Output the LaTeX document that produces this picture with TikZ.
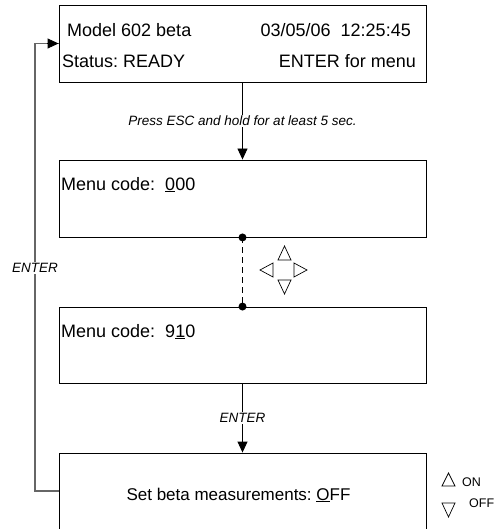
\documentclass[tikz,border=0pt]{standalone}
\usepackage{fontspec}
\setmainfont{Liberation Sans}
\usetikzlibrary{arrows.meta}
\frenchspacing
\tikzset{
  box/.style={draw, line width=0.9pt, minimum width=367pt, inner sep=0pt},
  main/.style={font=\fontsize{18}{20}\selectfont, inner sep=0pt},
  lbl/.style={font=\fontsize{13.5}{15}\selectfont\itshape, fill=white, inner sep=1.5pt},
  arr/.style={line width=0.9pt, -{Triangle[length=11pt,width=10pt]}},
  fb/.style={line width=1.1pt, draw=black!60},
  tri/.style={draw, line width=0.7pt, line join=miter},
  small/.style={font=\fontsize{12.5}{13}\selectfont, inner sep=0pt}
}
\begin{document}
\begin{tikzpicture}[x=1pt,y=-1pt]
\path[use as bounding box] (0,0) rectangle (497,529);
\clip (0,0) rectangle (497,529);
% boxes
\node[box, minimum height=77pt] (b1) at (242.5,43.5) {};
\node[box, minimum height=77pt] (b2) at (242.5,198.5) {};
\node[box, minimum height=76pt] (b3) at (242.5,345) {};
\node[box, minimum height=87pt] (b4) at (242.5,496.5) {};
% texts
\node[main, anchor=base west] (t1) at (67,37) {Model 602 beta};
\node[main, anchor=base east] (t2) at (411,37) {03/05/06\ \ 12:25:45};
\node[main, anchor=base west] (t3) at (62,68) {Status: READY};
\node[main, anchor=base east] (t4) at (416,68) {ENTER for menu};
\node[main, anchor=base west] (t5) at (61,190) {Menu code:\ \ \underline{0}00};
\node[main, anchor=base west] (t6) at (61,337) {Menu code:\ \ 9\underline{1}0};
\node[main, font=\fontsize{17}{19}\selectfont, anchor=base] (t7) at (238.5,500) {Set beta measurements: \underline{O}FF};
% connectors
\draw[arr] (b1.south) -- node[lbl] (l1) {Press ESC and hold for at least 5 sec.} (b2.north);
\draw[line width=0.9pt, dash pattern=on 6pt off 4pt] (b2.south) -- (b3.north);
\fill (b2.south) circle (4pt);
\fill (b3.north) circle (4pt);
\draw[arr] (b3.south) -- node[lbl] (l2) {ENTER} (b4.north);
\coordinate (c1) at (35,491);
\coordinate (c2) at (35,43.5);
\draw[fb] (b4.west |- c1) -- (c1) -- (c2) -- (b1.west);
\draw[arr] ([xshift=-12pt]b1.west) -- (b1.west);
\node[lbl] (l3) at (35,268) {ENTER};
% arrow key triangles
\draw[tri] (278,260) -- (291,260) -- (284.5,246) -- cycle;
\draw[tri] (273,263) -- (273,277) -- (260,270) -- cycle;
\draw[tri] (294,263) -- (294,277) -- (307,270) -- cycle;
\draw[tri] (278,280) -- (291,280) -- (284.5,294) -- cycle;
% on / off
\draw[tri] (442,486) -- (455,486) -- (448.5,473) -- cycle;
\node[small, anchor=west] (on) at (462,482) {ON};
\draw[tri] (442,503) -- (455,503) -- (448.5,517) -- cycle;
\node[small, anchor=west] (off) at (469,503) {OFF};
\end{tikzpicture}
\end{document}
